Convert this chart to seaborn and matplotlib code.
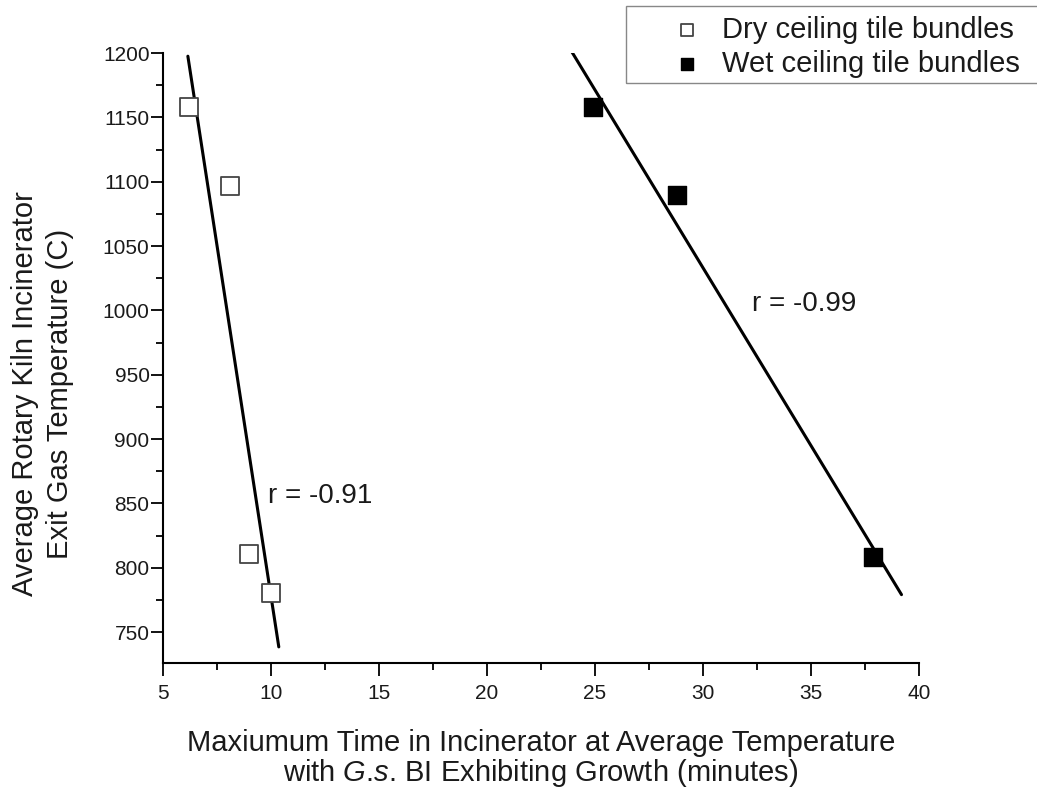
import numpy as np
import pandas as pd
import matplotlib
matplotlib.use("Agg")
import matplotlib.pyplot as plt
import seaborn as sns
from matplotlib.ticker import MultipleLocator
from matplotlib.patches import Rectangle

# ---- data ----
dry_time = [6.2, 8.1, 9.0, 10.0]
dry_temp = [1158, 1097, 811, 780]
wet_time = [24.9, 28.8, 37.9]
wet_temp = [1158, 1090, 808]
dry_fit_range = [6.16, 10.37]
wet_fit_range = [23.9, 39.2]
dry_r = "r = -0.91"
wet_r = "r = -0.99"
x_ticks = [5, 10, 15, 20, 25, 30, 35, 40]
y_ticks = [750, 800, 850, 900, 950, 1000, 1050, 1100, 1150, 1200]

sns.set_theme(style="ticks")
plt.rcParams["font.family"] = ["Liberation Sans", "DejaVu Sans"]
plt.rcParams["mathtext.fontset"] = "custom"
plt.rcParams["mathtext.it"] = "Liberation Sans:italic"
plt.rcParams["mathtext.rm"] = "Liberation Sans"
txt = "#1a1a1a"

W, H = 1037, 793
fig = plt.figure(figsize=(W / 100, H / 100), dpi=100)
ax = fig.add_axes([0.157, 0.164, 0.729, 0.769])

dry = pd.DataFrame({"t": dry_time, "T": dry_temp})
wet = pd.DataFrame({"t": wet_time, "T": wet_temp})

# regression lines
for df, rng in ((dry, dry_fit_range), (wet, wet_fit_range)):
    k, b = np.polyfit(df["t"], df["T"], 1)
    xs = np.array(rng)
    sns.lineplot(x=xs, y=k * xs + b, ax=ax, color="black", lw=2.2, legend=False)

sns.scatterplot(data=dry, x="t", y="T", ax=ax, marker="s", s=150,
                facecolor="white", edgecolor="#444444", linewidth=1.3,
                label="Dry ceiling tile bundles", zorder=3)
sns.scatterplot(data=wet, x="t", y="T", ax=ax, marker="s", s=150,
                color="black", edgecolor="black", linewidth=1.0,
                label="Wet ceiling tile bundles", zorder=3)

ax.text(9.85, 856, dry_r, fontsize=20, color=txt, va="center", ha="left")
ax.text(32.3, 1005, wet_r, fontsize=20, color=txt, va="center", ha="left")

ax.set_xlim(5, 40)
ax.set_ylim(726, 1200)
ax.set_xticks(x_ticks)
ax.set_yticks(y_ticks)
ax.xaxis.set_minor_locator(MultipleLocator(2.5))
ax.yaxis.set_minor_locator(MultipleLocator(25))
ax.tick_params(which="major", length=9, width=1.3, labelsize=15, colors="black",
               labelcolor=txt)
ax.tick_params(axis="y", which="major", pad=0.5)
ax.tick_params(axis="x", which="major", pad=6)
ax.tick_params(which="minor", length=5, width=1.3, colors="black")
sns.despine(ax=ax)
for s in ("left", "bottom"):
    ax.spines[s].set_linewidth(1.5)
    ax.spines[s].set_color("black")

ax.set_xlabel("Maxiumum Time in Incinerator at Average Temperature\n"
              r"with $\mathit{G}$.$\mathit{s}$. BI Exhibiting Growth (minutes)",
              fontsize=21, color=txt, linespacing=1.0)
ax.xaxis.set_label_coords(0.5, -0.108)
ax.set_ylabel("Average Rotary Kiln Incinerator\nExit Gas Temperature (C)",
              fontsize=21, color=txt, linespacing=1.3)
ax.yaxis.set_label_coords(-0.118, 0.441)

# legend (frame drawn separately to match the wide left margin)
leg = ax.legend(loc="upper left", bbox_to_anchor=(664 / W, 1 - 16 / H),
                bbox_transform=fig.transFigure, frameon=False,
                fontsize=21, markerscale=0.75,
                handletextpad=0.4, borderpad=0.0, labelspacing=0.2,
                handlelength=1.6, borderaxespad=0)
for t in leg.get_texts():
    t.set_color(txt)
fig.patches.append(Rectangle((626 / W, 1 - 83 / H), 420 / W, 77 / H,
                             transform=fig.transFigure, fill=False,
                             edgecolor="#888888", linewidth=1.0))

fig.savefig("out.png", dpi=100, facecolor="white")
